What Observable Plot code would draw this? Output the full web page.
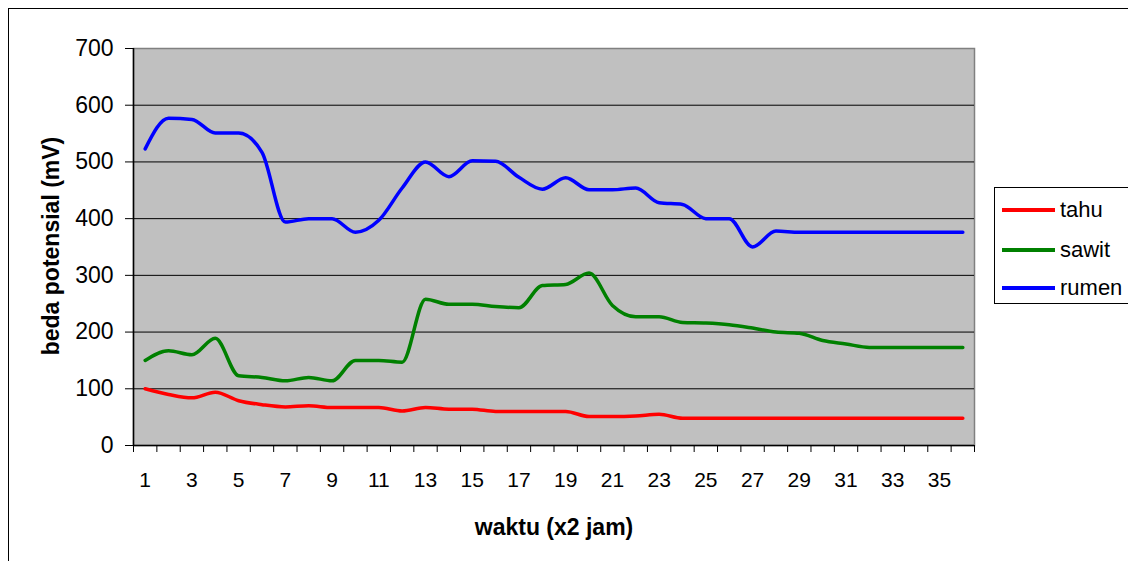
<!DOCTYPE html>
<html>
<head>
<meta charset="utf-8">
<script src="https://cdn.jsdelivr.net/npm/d3@7"></script>
<script src="https://cdn.jsdelivr.net/npm/@observablehq/plot@0.6"></script>
<style>
  html, body { margin: 0; padding: 0; background: #fff; }
  #wrap { position: relative; width: 1128px; height: 561px; overflow: hidden; font-family: Arial, "Liberation Sans", sans-serif; }
  #border { position: absolute; left: 8px; top: 8px; width: 1200px; height: 600px; border-left: 1.5px solid #000; border-top: 1.5px solid #000; pointer-events: none; }
  #legend { position: absolute; left: 994px; top: 187px; width: 140px; height: 117px; border: 1px solid #000; background: #fff; box-sizing: border-box; }
  .item { position: absolute; left: 7px; height: 24px; display: flex; align-items: center; }
  .swatch { width: 53px; height: 3.5px; margin-right: 5px; }
  .lbl { font-size: 22px; color: #000; line-height: 24px; }
</style>
</head>
<body>
<div id="wrap">
  <div id="chart"></div>
  <div id="border"></div>
  <div id="legend"></div>
</div>
<script>
// Categories (waktu, x2 jam)
const cats = d3.range(1, 37);
const xTickLabels = [1, 3, 5, 7, 9, 11, 13, 15, 17, 19, 21, 23, 25, 27, 29, 31, 33, 35];
const yTicks = [0, 100, 200, 300, 400, 500, 600, 700];

// Series values (beda potensial, mV)
const tahu = [100, 90, 84, 94, 79, 72, 68, 70, 67, 67, 67, 61, 67, 64, 64, 60, 60, 60,
              60, 51, 51, 52, 55, 48, 48, 48, 48, 48, 48, 48, 48, 48, 48, 48, 48, 48];
const sawit = [150, 167, 160, 189, 123, 120, 114, 120, 114, 150, 150, 147, 258, 249, 249, 245, 243, 282,
               284, 304, 247, 227, 227, 217, 216, 213, 207, 200, 198, 185, 179, 173, 173, 173, 173, 173];
const rumen = [523, 577, 575, 551, 551, 517, 394, 400, 400, 376, 397, 454, 500, 474, 502, 501, 473, 452,
               472, 451, 451, 454, 428, 425, 400, 400, 350, 378, 376, 376, 376, 376, 376, 376, 376, 376];

const seriesNames = ["tahu", "sawit", "rumen"];
const seriesColors = ["#FF0000", "#008000", "#0000FF"];
const seriesValues = [tahu, sawit, rumen];

const rows = [];
seriesNames.forEach((name, s) => {
  cats.forEach((c, i) => rows.push({cat: c, value: seriesValues[s][i], series: name}));
});

const boundaries = d3.range(0, 37).map(d => d + 0.5);
const gridVals = [100, 200, 300, 400, 500, 600];

const chart = Plot.plot({
  width: 1128,
  height: 561,
  marginLeft: 133,
  marginRight: 154,
  marginTop: 48,
  marginBottom: 116,
  x: {domain: [0.5, 36.5]},
  y: {domain: [0, 700]},
  color: {domain: seriesNames, range: seriesColors},
  style: {fontFamily: "Arial, 'Liberation Sans', sans-serif", background: "transparent", color: "#000"},
  marks: [
    Plot.frame({fill: "#C0C0C0", stroke: "#808080", strokeWidth: 1.5}),
    Plot.ruleY(gridVals, {stroke: "#000", strokeWidth: 1}),
    Plot.line(rows, {x: "cat", y: "value", z: "series", stroke: "series", strokeWidth: 3.5, curve: "monotone-x", strokeLinejoin: "round", strokeLinecap: "round"}),
    Plot.ruleX([0.5], {stroke: "#000", strokeWidth: 1.5}),
    Plot.ruleY([0], {stroke: "#000", strokeWidth: 1.5}),
    Plot.axisY(yTicks, {tickSize: 8, tickPadding: 12, fontSize: 23, label: null, stroke: "#000"}),
    Plot.axisX(boundaries, {tickSize: 7, tickFormat: () => "", label: null, stroke: "#000"}),
    Plot.axisX(xTickLabels, {tickSize: 0, tickPadding: 27, fontSize: 21, label: null}),
    Plot.text(["beda potensial (mV)"], {frameAnchor: "left", textAnchor: "middle", lineAnchor: "middle", dx: -82, dy: -1, rotate: -90, fontSize: 23, fontWeight: "bold", fill: "#000"}),
    Plot.text(["waktu (x2 jam)"], {frameAnchor: "bottom", textAnchor: "middle", lineAnchor: "middle", dy: 82, fontSize: 23, fontWeight: "bold", fill: "#000", letterSpacing: "0.9px"})
  ]
});
document.getElementById("chart").appendChild(chart);

// Legend
const legend = document.getElementById("legend");
const ys = [22, 62, 100];
seriesNames.forEach((name, i) => {
  const item = document.createElement("div");
  item.className = "item";
  item.style.top = (ys[i] - 12) + "px";
  const sw = document.createElement("div");
  sw.className = "swatch";
  sw.style.background = seriesColors[i];
  const t = document.createElement("span");
  t.className = "lbl";
  t.textContent = name;
  item.appendChild(sw);
  item.appendChild(t);
  legend.appendChild(item);
});
</script>
</body>
</html>
